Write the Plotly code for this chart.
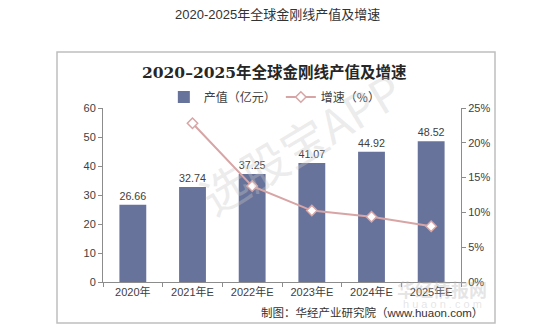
import plotly.graph_objects as go

# Global diamond-wire output value (100 million yuan) and year-on-year growth (%)
years = ["2020年", "2021年E", "2022年E", "2023年E", "2024年E", "2025年E"]
output_value = [26.66, 32.74, 37.25, 41.07, 44.92, 48.52]
growth_years = ["2021年E", "2022年E", "2023年E", "2024年E", "2025年E"]
growth_rate = [22.81, 13.78, 10.26, 9.37, 8.01]

left_ticks = [0, 10, 20, 30, 40, 50, 60]
right_ticks = [0, 5, 10, 15, 20, 25]
right_tick_text = ["0%", "5%", "10%", "15%", "20%", "25%"]

BAR = "#68739B"
LINE = "#D7A5A5"
TXT = "#404040"
FONT = "Liberation Sans, Arial, Noto Sans CJK SC, sans-serif"
CJK = "Noto Sans CJK SC, Liberation Sans, sans-serif"

W, H = 554, 336
L, R, T, B = 103, 93, 108, 54
pw, ph = W - L - R, H - T - B


def px(x):
    return (x - L) / pw


def py(y):
    return (H - B - y) / ph


fig = go.Figure()

fig.add_trace(go.Bar(
    x=years, y=output_value, name="产值（亿元）",
    marker=dict(color=BAR, line=dict(width=0)),
    text=[f"{v:.2f}" for v in output_value], textposition="outside",
    textfont=dict(size=11, color=TXT, family=FONT),
    cliponaxis=False, yaxis="y",
))

fig.add_trace(go.Scatter(
    x=growth_years, y=growth_rate, name="增速（%）", mode="lines+markers",
    line=dict(color=LINE, width=2),
    marker=dict(symbol="diamond", size=8, color="white",
                line=dict(color=LINE, width=1.5)),
    yaxis="y2", cliponaxis=False,
))

fig.update_layout(
    width=W, height=H,
    margin=dict(l=L, r=R, t=T, b=B),
    paper_bgcolor="white", plot_bgcolor="white",
    font=dict(family=FONT, size=11, color=TXT),
    bargap=0.55,
    showlegend=True,
    legend=dict(orientation="h", x=0.48, xanchor="center",
                y=py(97), yanchor="middle",
                font=dict(size=12, color=TXT, family=CJK),
                itemwidth=30, tracegroupgap=0, bgcolor="rgba(0,0,0,0)"),
    xaxis=dict(type="category", categoryorder="array", categoryarray=years,
               showline=True, linecolor="#8C8C8C", linewidth=1,
               ticks="outside", tickson="boundaries", ticklen=4,
               tickcolor="#8C8C8C", showgrid=False,
               tickfont=dict(size=11, color=TXT, family=FONT)),
    yaxis=dict(range=[0, 60], tickvals=left_ticks, showline=True,
               linecolor="#8C8C8C", linewidth=1, ticks="outside", ticklen=4,
               tickcolor="#8C8C8C", showgrid=False, zeroline=False,
               tickfont=dict(size=11, color=TXT, family=FONT)),
    yaxis2=dict(range=[0, 25], tickvals=right_ticks, ticktext=right_tick_text,
                overlaying="y", side="right", showline=True,
                linecolor="#8C8C8C", linewidth=1, ticks="outside", ticklen=4,
                tickcolor="#8C8C8C", showgrid=False, zeroline=False,
                tickfont=dict(size=11, color=TXT, family=FONT)),
)

# Outer frame around the chart panel
fig.add_shape(type="rect", xref="paper", yref="paper",
              x0=px(57), x1=px(495), y0=py(323), y1=py(52),
              line=dict(color="#BFBFBF", width=1.5), fillcolor="rgba(0,0,0,0)",
              layer="below")

annotations = [
    dict(text="2020-2025年全球金刚线产值及增速", x=px(277), y=py(14),
         font=dict(size=13, color="#333333", family=FONT)),
    dict(text="<b>2020–2025年全球金刚线产值及增速</b>", x=px(274), y=py(72),
         font=dict(size=15.5, color="#262626",
                   family="DejaVu Serif, Noto Sans CJK SC, serif")),
    dict(text="制图：华经产业研究院（www.huaon.com）", x=px(485), y=py(312),
         xanchor="right", font=dict(size=11.5, color="#333333", family=FONT)),
    # faint watermarks
    dict(text="选股宝APP", x=px(300), y=py(142), textangle=-31,
         font=dict(size=46, color="rgba(200,200,200,0.35)", family=CJK)),
    dict(text="<b>华经情报网</b>", x=px(442), y=py(289),
         font=dict(size=18, color="rgba(180,180,180,0.35)", family=CJK)),
    dict(text="h u a o n . c o m", x=px(442), y=py(304),
         font=dict(size=11, color="rgba(180,180,180,0.35)", family=FONT)),
]
for a in annotations:
    a.setdefault("xanchor", "center")
    fig.add_annotation(xref="paper", yref="paper", showarrow=False,
                       yanchor="middle", **a)

fig.write_html("out.html")
